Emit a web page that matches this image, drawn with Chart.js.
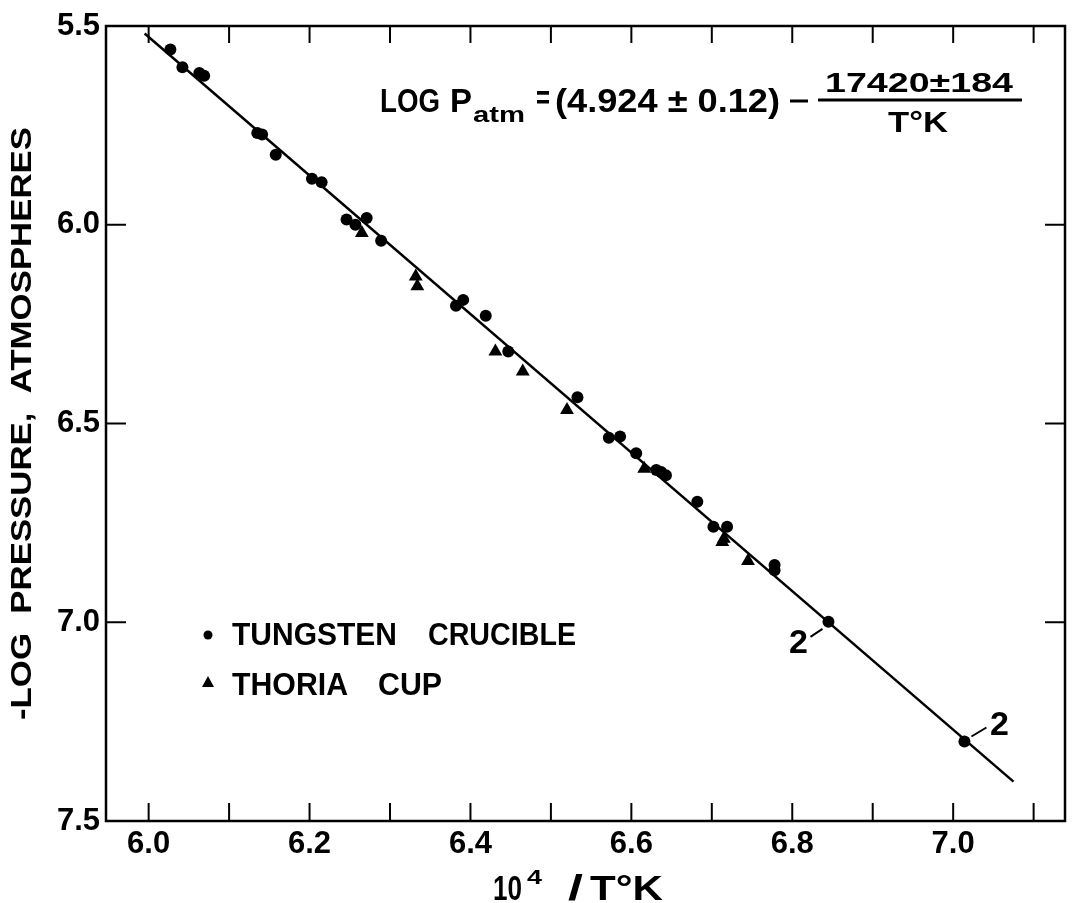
<!DOCTYPE html>
<html>
<head>
<meta charset="utf-8">
<script src="https://cdn.jsdelivr.net/npm/chart.js@4.4.1/dist/chart.umd.min.js"></script>
<style>
  html, body { margin: 0; padding: 0; background: #fff; }
  canvas { display: block; }
</style>
</head>
<body>
<canvas id="vp" width="1073" height="903"></canvas>
<script>
// --- DATA ---
const tungstenX = [6.027, 6.042, 6.063, 6.069, 6.135, 6.141, 6.158, 6.203, 6.215, 6.246, 6.257, 6.271, 6.289,
                   6.382, 6.391, 6.419, 6.447, 6.533, 6.572, 6.586, 6.606, 6.631, 6.637, 6.643, 6.682,
                   6.702, 6.719, 6.778, 6.778, 6.845, 7.014];
const tungstenY = [5.559, 5.604, 5.618, 5.625, 5.769, 5.773, 5.824, 5.884, 5.893, 5.987, 6.000, 5.983, 6.040,
                   6.204, 6.189, 6.229, 6.319, 6.434, 6.536, 6.533, 6.575, 6.617, 6.622, 6.630, 6.697,
                   6.760, 6.760, 6.856, 6.869, 6.999, 7.300];
const thoriaX = [6.265, 6.332, 6.334, 6.431, 6.465, 6.520, 6.616, 6.715, 6.713, 6.745];
const thoriaY = [6.021, 6.130, 6.155, 6.319, 6.369, 6.466, 6.614, 6.790, 6.798, 6.846];
const fitX = [5.995, 7.075];
const fitY = [5.519, 7.401];
// points that stand for two runs
const doubledX = [6.845, 7.014];
const doubledY = [6.999, 7.300];
const doubledLabels = ['2', '2'];

const xTickValues = [6.0, 6.1, 6.2, 6.3, 6.4, 6.5, 6.6, 6.7, 6.8, 6.9, 7.0, 7.1];
const xTickLabels = ['6.0', '', '6.2', '', '6.4', '', '6.6', '', '6.8', '', '7.0', ''];
const yTickValues = [5.5, 6.0, 6.5, 7.0, 7.5];
const yTickLabels = ['5.5', '6.0', '6.5', '7.0', '7.5'];

const INK = '#000';
const FACE = '"Liberation Sans", Arial, sans-serif';

const pts = (xs, ys) => xs.map((x, i) => ({ x: x, y: ys[i] }));

function line(g, x1, y1, x2, y2) { g.beginPath(); g.moveTo(x1, y1); g.lineTo(x2, y2); g.stroke(); }

// draw text stretched/squeezed to span x..x2 (the lettering is wider than Arial)
function fitText(g, str, x, y, x2) {
  const w = g.measureText(str).width;
  g.save(); g.translate(x, y); g.scale((x2 - x) / w, 1); g.fillText(str, 0, 0); g.restore();
}

// frame, inward ticks and all the lettering
const paper = {
  id: 'paper',
  beforeDraw(c) {
    const g = c.ctx;
    g.save(); g.fillStyle = '#fff'; g.fillRect(0, 0, c.width, c.height); g.restore();
  },
  afterDraw(c) {
    const g = c.ctx, a = c.chartArea, sx = c.scales.x, sy = c.scales.y;
    g.save();
    g.strokeStyle = INK; g.fillStyle = INK; g.lineCap = 'butt';
    g.lineWidth = 2.5;
    g.strokeRect(a.left, a.top, a.right - a.left, a.bottom - a.top);

    g.lineWidth = 2;
    xTickValues.forEach(v => {
      const px = sx.getPixelForValue(v);
      line(g, px, a.bottom, px, a.bottom - 18);
      line(g, px, a.top, px, a.top + 17);
    });
    yTickValues.slice(1, -1).forEach(v => {
      const py = sy.getPixelForValue(v);
      line(g, a.left, py, a.left + 20, py);
      line(g, a.right, py, a.right - 20, py);
    });

    // "2" marks beside the doubled points
    g.font = 'bold 34px ' + FACE;
    g.textAlign = 'center'; g.textBaseline = 'middle';
    doubledX.forEach((v, i) => {
      const px = sx.getPixelForValue(v), py = sy.getPixelForValue(doubledY[i]);
      if (i === 0) {
        line(g, px - 18, py + 15, px - 6, py + 7);
        g.fillText(doubledLabels[i], px - 30, py + 22);
      } else {
        line(g, px + 7, py - 5, px + 22, py - 14);
        g.fillText(doubledLabels[i], px + 35, py - 16);
      }
    });

    // equation
    g.textAlign = 'left'; g.textBaseline = 'alphabetic';
    g.font = 'bold 33px ' + FACE;
    fitText(g, 'LOG', 380, 112, 440);
    fitText(g, 'P', 450, 112, 472);
    g.font = 'bold 22px ' + FACE;
    fitText(g, 'atm', 473, 122, 525);
    g.font = 'bold 33px ' + FACE;
    fitText(g, '=', 536, 109, 550);
    fitText(g, '(4.924 \u00b1 0.12)', 555, 112, 780);
    g.lineWidth = 3;
    line(g, 790, 101, 808, 101);
    line(g, 818, 100, 1022, 100);
    g.font = 'bold 28px ' + FACE;
    fitText(g, '17420\u00b1184', 825, 92, 1013);
    g.font = 'bold 30px ' + FACE;
    fitText(g, 'T\u00b0K', 888, 132, 948);

    // legend
    g.font = 'bold 32px ' + FACE;
    fitText(g, 'TUNGSTEN', 232, 645, 397);
    fitText(g, 'CRUCIBLE', 428, 645, 576);
    fitText(g, 'THORIA', 232, 695, 348);
    fitText(g, 'CUP', 378, 695, 442);
    g.beginPath(); g.arc(208, 635, 4.5, 0, Math.PI * 2); g.fill();
    g.beginPath(); g.moveTo(208, 676); g.lineTo(214, 687); g.lineTo(202, 687); g.closePath(); g.fill();

    // x title
    g.font = 'bold 35px ' + FACE;
    fitText(g, '10', 493, 900, 522);
    g.font = 'bold 21px ' + FACE;
    fitText(g, '4', 527, 884, 542);
    g.font = 'bold 35px ' + FACE;
    fitText(g, '/', 568, 900, 583);
    fitText(g, 'T\u00b0K', 590, 900, 663);

    // y title, wide lettering along the axis
    g.translate(23, 720);
    g.rotate(-Math.PI / 2);
    g.font = 'bold 29px ' + FACE;
    g.textBaseline = 'middle';
    fitText(g, '-LOG  PRESSURE,  ATMOSPHERES', 0, 0, 593);
    g.restore();
  }
};

const tickFont = { family: FACE, size: 31, weight: 'bold' };

new Chart(document.getElementById('vp'), {
  type: 'scatter',
  data: {
    datasets: [
      { label: 'fit', data: pts(fitX, fitY), showLine: true, borderColor: INK, borderWidth: 2.5,
        pointRadius: 0, fill: false, order: 3 },
      { label: 'TUNGSTEN CRUCIBLE', data: pts(tungstenX, tungstenY), pointStyle: 'circle',
        pointRadius: 6, backgroundColor: INK, borderColor: INK, borderWidth: 0, order: 1 },
      { label: 'THORIA CUP', data: pts(thoriaX, thoriaY), pointStyle: 'triangle',
        pointRadius: 8, backgroundColor: INK, borderColor: INK, borderWidth: 0, order: 2 }
    ]
  },
  options: {
    responsive: false,
    animation: false,
    events: [],
    layout: { padding: { top: 26, right: 1, left: 0, bottom: 0 } },
    plugins: { legend: { display: false }, tooltip: { enabled: false } },
    scales: {
      x: {
        type: 'linear', min: 5.947, max: 7.139,
        afterBuildTicks: s => { s.ticks = xTickValues.map(v => ({ value: v })); },
        afterFit: s => { s.height = 82; },
        grid: { display: false, drawTicks: false },
        border: { display: false },
        ticks: { autoSkip: false, maxRotation: 0, padding: 5, color: INK, font: tickFont,
                 callback: (v, i) => xTickLabels[i] }
      },
      y: {
        type: 'linear', reverse: true, min: 5.5, max: 7.5,
        afterBuildTicks: s => { s.ticks = yTickValues.map(v => ({ value: v })); },
        afterFit: s => { s.width = 106; },
        grid: { display: false, drawTicks: false },
        border: { display: false },
        ticks: { autoSkip: false, padding: 6, color: INK, font: tickFont,
                 callback: (v, i) => yTickLabels[i] }
      }
    }
  },
  plugins: [paper]
});
</script>
</body>
</html>
